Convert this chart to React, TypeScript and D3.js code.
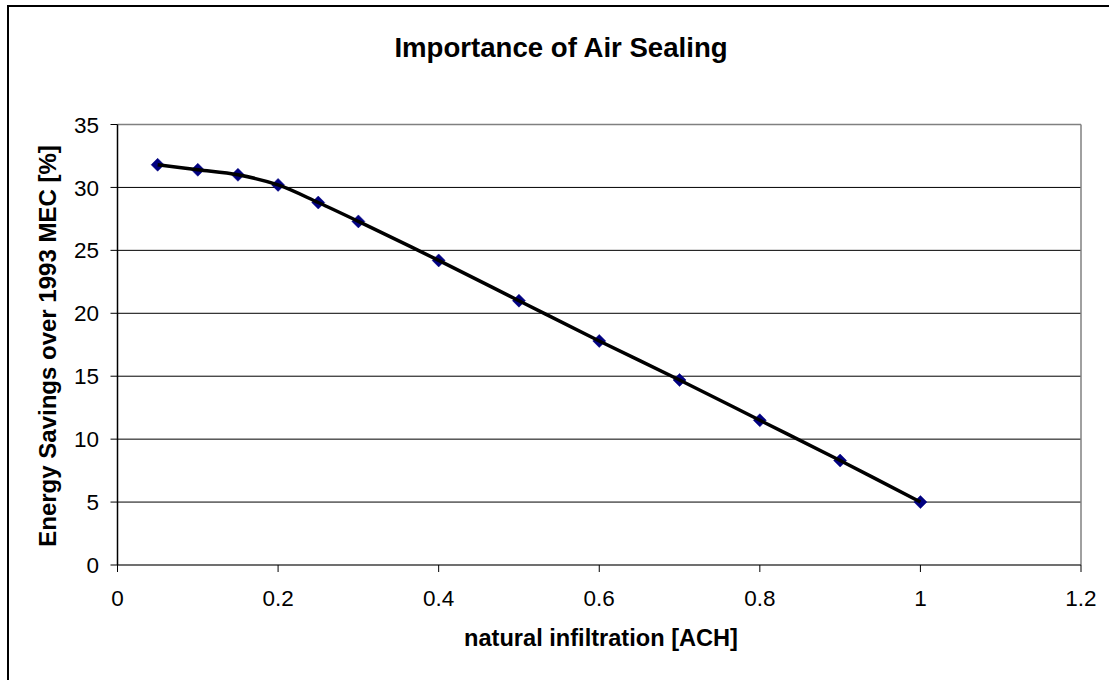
import * as d3 from 'd3';

const achValues = [0.05, 0.1, 0.15, 0.2, 0.25, 0.3, 0.4, 0.5, 0.6, 0.7, 0.8, 0.9, 1.0];
const savingsValues = [31.8, 31.4, 31.0, 30.2, 28.8, 27.3, 24.2, 21.0, 17.8, 14.7, 11.5, 8.3, 5.0];
const xTicks = [0, 0.2, 0.4, 0.6, 0.8, 1, 1.2];
const yTicks = [0, 5, 10, 15, 20, 25, 30, 35];

const W = 1109;
const H = 680;
const plot = { left: 117.5, right: 1081, top: 124.5, bottom: 565 };
const FONT = '"Liberation Sans", Arial, sans-serif';

export default function App() {
  const x = d3.scaleLinear().domain([0, 1.2]).range([plot.left, plot.right]);
  const y = d3.scaleLinear().domain([0, 35]).range([plot.bottom, plot.top]);

  const points = achValues.map((v, i) => [v, savingsValues[i]] as [number, number]);

  // excel style smoothed line
  const line = d3
    .line<[number, number]>()
    .x((d) => x(d[0]))
    .y((d) => y(d[1]))
    .curve(d3.curveCatmullRom.alpha(0.5));

  const diamond = (cx: number, cy: number, r: number) =>
    `M${cx},${cy - r}L${cx + r},${cy}L${cx},${cy + r}L${cx - r},${cy}Z`;

  return (
    <svg
      width={W}
      height={H}
      style={{ position: 'absolute', left: 0, top: 0, display: 'block', background: '#fff' }}
      fontFamily={FONT}
    >
      {/* chart area border (runs off the canvas right and bottom) */}
      <rect x={8} y={6} width={1200} height={800} fill="#fff" stroke="#000" strokeWidth={2} />

      <text x={561} y={57} textAnchor="middle" fontSize={27.6} fontWeight="bold" fill="#000">
        Importance of Air Sealing
      </text>

      {/* gridlines */}
      {yTicks.slice(1, -1).map((t) => (
        <line key={t} x1={plot.left} x2={plot.right} y1={y(t)} y2={y(t)} stroke="#000" strokeWidth={1} />
      ))}

      {/* plot frame */}
      <line x1={plot.left} x2={plot.right} y1={plot.top} y2={plot.top} stroke="#808080" strokeWidth={1.5} />
      <line x1={plot.right} x2={plot.right} y1={plot.top} y2={plot.bottom} stroke="#808080" strokeWidth={1.5} />

      {/* axes */}
      <line x1={plot.left} x2={plot.right} y1={plot.bottom} y2={plot.bottom} stroke="#404040" strokeWidth={1.5} />
      <line x1={plot.left} x2={plot.left} y1={plot.top} y2={plot.bottom} stroke="#000" strokeWidth={1.5} />

      {yTicks.map((t) => (
        <g key={`y${t}`}>
          <line x1={plot.left - 7} x2={plot.left} y1={y(t)} y2={y(t)} stroke="#000" strokeWidth={1} />
          <text x={99} y={y(t)} dy="0.36em" textAnchor="end" fontSize={22.5} fill="#000">
            {t}
          </text>
        </g>
      ))}

      {xTicks.map((t) => (
        <g key={`x${t}`}>
          <line x1={x(t)} x2={x(t)} y1={plot.bottom} y2={plot.bottom + 7} stroke="#000" strokeWidth={1} />
          <text x={x(t)} y={606} textAnchor="middle" fontSize={22.5} fill="#000">
            {`${t}`}
          </text>
        </g>
      ))}

      <text x={601} y={646} textAnchor="middle" fontSize={23.6} fontWeight="bold" fill="#000">
        natural infiltration [ACH]
      </text>
      <text
        transform="translate(56,346) rotate(-90)"
        textAnchor="middle"
        fontSize={24}
        fontWeight="bold"
        fill="#000"
      >
        Energy Savings over 1993 MEC [%]
      </text>

      {points.map((d, i) => (
        <path key={`m${i}`} d={diamond(x(d[0]), y(d[1]), 6.5)} fill="#000080" stroke="#000080" strokeWidth={0.5} />
      ))}

      <path d={line(points) ?? ''} fill="none" stroke="#000" strokeWidth={3.5} strokeLinejoin="round" />
    </svg>
  );
}
